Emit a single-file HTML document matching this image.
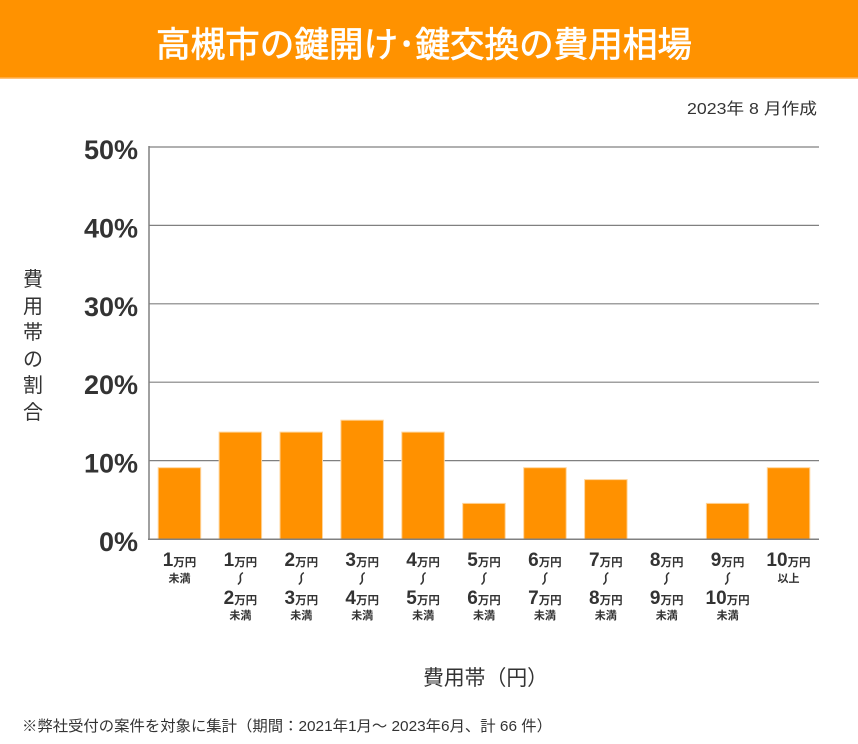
<!DOCTYPE html>
<html>
<head>
<meta charset="utf-8">
<style>
  html,body{margin:0;padding:0;background:#fff;}
  body{width:858px;height:744px;overflow:hidden;position:relative;}
  svg{position:absolute;left:0;top:0;}
</style>
</head>
<body>
<svg width="858" height="744" viewBox="0 0 858 744" xmlns="http://www.w3.org/2000/svg">
  <!-- header -->
  <rect x="0" y="0" width="858" height="78" fill="#FF9200"/>
  <rect x="0" y="77.5" width="858" height="1.5" fill="#FFC27A"/>
  <text x="156" y="57" textLength="536" lengthAdjust="spacingAndGlyphs" fill="#fff" stroke="#fff" stroke-width="0.7" font-family="'Noto Sans CJK JP',sans-serif" font-weight="normal" font-size="35">高槻市の鍵開け･鍵交換の費用相場</text>

  <text x="687" y="114" textLength="130" lengthAdjust="spacingAndGlyphs" fill="#333" font-family="'Liberation Sans','Noto Sans CJK JP',sans-serif" font-size="16">2023年 8 月作成</text>

  <!-- gridlines -->
  <g stroke="#808080" stroke-width="1.2">
    <line x1="149" y1="147" x2="819" y2="147"/>
    <line x1="149" y1="225.4" x2="819" y2="225.4"/>
    <line x1="149" y1="303.8" x2="819" y2="303.8"/>
    <line x1="149" y1="382.2" x2="819" y2="382.2"/>
    <line x1="149" y1="460.6" x2="819" y2="460.6"/>
  </g>

  <!-- y tick labels -->
  <g fill="#333" font-family="'Liberation Sans',sans-serif" font-weight="bold" font-size="27" text-anchor="end">
    <text x="138" y="159">50%</text>
    <text x="138" y="237.4">40%</text>
    <text x="138" y="315.8">30%</text>
    <text x="138" y="394.2">20%</text>
    <text x="138" y="472.6">10%</text>
    <text x="138" y="551">0%</text>
  </g>

  <!-- y axis title -->
  <g fill="#333" font-family="'Liberation Sans','Noto Sans CJK JP',sans-serif" font-size="20" text-anchor="middle">
    <text x="33" y="286">費</text>
    <text x="33" y="313">用</text>
    <text x="33" y="339">帯</text>
    <text x="33" y="366">の</text>
    <text x="33" y="392">割</text>
    <text x="33" y="419">合</text>
  </g>

  <!-- bars -->
  <g fill="#FF9100" stroke="#FFD49A" stroke-width="1">
    <rect x="158.2" y="467.7" width="42.5" height="71.3"/>
    <rect x="219.1" y="432.1" width="42.5" height="106.9"/>
    <rect x="280.0" y="432.1" width="42.5" height="106.9"/>
    <rect x="340.9" y="420.2" width="42.5" height="118.8"/>
    <rect x="401.8" y="432.1" width="42.5" height="106.9"/>
    <rect x="462.7" y="503.4" width="42.5" height="35.6"/>
    <rect x="523.7" y="467.7" width="42.5" height="71.3"/>
    <rect x="584.6" y="479.6" width="42.5" height="59.4"/>
    <rect x="706.4" y="503.4" width="42.5" height="35.6"/>
    <rect x="767.3" y="467.7" width="42.5" height="71.3"/>
  </g>

  <!-- axes -->
  <line x1="149" y1="146" x2="149" y2="540" stroke="#808080" stroke-width="1.5"/>
  <line x1="148" y1="539.2" x2="819" y2="539.2" stroke="#808080" stroke-width="1.5"/>

  <!-- x labels -->
  <g fill="#333" font-family="'Liberation Sans','Noto Sans CJK JP',sans-serif" font-weight="bold" text-anchor="middle">
    <text x="179.5" y="566"><tspan font-size="19">1</tspan><tspan font-size="11.5">万円</tspan></text>
    <text x="179.5" y="582" font-size="11">未満</text>

    <text x="240.4" y="566"><tspan font-size="19">1</tspan><tspan font-size="11.5">万円</tspan></text>
    <text x="240.4" y="604"><tspan font-size="19">2</tspan><tspan font-size="11.5">万円</tspan></text>
    <text x="240.4" y="619" font-size="11">未満</text>

    <text x="301.3" y="566"><tspan font-size="19">2</tspan><tspan font-size="11.5">万円</tspan></text>
    <text x="301.3" y="604"><tspan font-size="19">3</tspan><tspan font-size="11.5">万円</tspan></text>
    <text x="301.3" y="619" font-size="11">未満</text>

    <text x="362.2" y="566"><tspan font-size="19">3</tspan><tspan font-size="11.5">万円</tspan></text>
    <text x="362.2" y="604"><tspan font-size="19">4</tspan><tspan font-size="11.5">万円</tspan></text>
    <text x="362.2" y="619" font-size="11">未満</text>

    <text x="423.1" y="566"><tspan font-size="19">4</tspan><tspan font-size="11.5">万円</tspan></text>
    <text x="423.1" y="604"><tspan font-size="19">5</tspan><tspan font-size="11.5">万円</tspan></text>
    <text x="423.1" y="619" font-size="11">未満</text>

    <text x="484.0" y="566"><tspan font-size="19">5</tspan><tspan font-size="11.5">万円</tspan></text>
    <text x="484.0" y="604"><tspan font-size="19">6</tspan><tspan font-size="11.5">万円</tspan></text>
    <text x="484.0" y="619" font-size="11">未満</text>

    <text x="544.9" y="566"><tspan font-size="19">6</tspan><tspan font-size="11.5">万円</tspan></text>
    <text x="544.9" y="604"><tspan font-size="19">7</tspan><tspan font-size="11.5">万円</tspan></text>
    <text x="544.9" y="619" font-size="11">未満</text>

    <text x="605.8" y="566"><tspan font-size="19">7</tspan><tspan font-size="11.5">万円</tspan></text>
    <text x="605.8" y="604"><tspan font-size="19">8</tspan><tspan font-size="11.5">万円</tspan></text>
    <text x="605.8" y="619" font-size="11">未満</text>

    <text x="666.7" y="566"><tspan font-size="19">8</tspan><tspan font-size="11.5">万円</tspan></text>
    <text x="666.7" y="604"><tspan font-size="19">9</tspan><tspan font-size="11.5">万円</tspan></text>
    <text x="666.7" y="619" font-size="11">未満</text>

    <text x="727.6" y="566"><tspan font-size="19">9</tspan><tspan font-size="11.5">万円</tspan></text>
    <text x="727.6" y="604"><tspan font-size="19">10</tspan><tspan font-size="11.5">万円</tspan></text>
    <text x="727.6" y="619" font-size="11">未満</text>

    <text x="788.5" y="566"><tspan font-size="19">10</tspan><tspan font-size="11.5">万円</tspan></text>
    <text x="788.5" y="582" font-size="11">以上</text>
  </g>

  <!-- tildes -->
  <g fill="none" stroke="#333" stroke-width="1.6" stroke-linecap="round">
    <path d="M242.4 573 C237.4 576, 243.4 580, 238.4 584"/>
    <path d="M303.3 573 C298.3 576, 304.3 580, 299.3 584"/>
    <path d="M364.2 573 C359.2 576, 365.2 580, 360.2 584"/>
    <path d="M425.1 573 C420.1 576, 426.1 580, 421.1 584"/>
    <path d="M486.0 573 C481.0 576, 487.0 580, 482.0 584"/>
    <path d="M546.9 573 C541.9 576, 547.9 580, 542.9 584"/>
    <path d="M607.8 573 C602.8 576, 608.8 580, 603.8 584"/>
    <path d="M668.7 573 C663.7 576, 669.7 580, 664.7 584"/>
    <path d="M729.6 573 C724.6 576, 730.6 580, 725.6 584"/>
  </g>

  <!-- x axis title -->
  <text x="423" y="685" textLength="125" lengthAdjust="spacingAndGlyphs" fill="#333" font-family="'Liberation Sans','Noto Sans CJK JP',sans-serif" font-size="21">費用帯（円）</text>

  <!-- footnote -->
  <text x="22" y="731" textLength="530" lengthAdjust="spacingAndGlyphs" fill="#333" font-family="'Liberation Sans','Noto Sans CJK JP',sans-serif" font-size="15">※弊社受付の案件を対象に集計（期間：2021年1月～ 2023年6月、計 66 件）</text>
</svg>
</body>
</html>
